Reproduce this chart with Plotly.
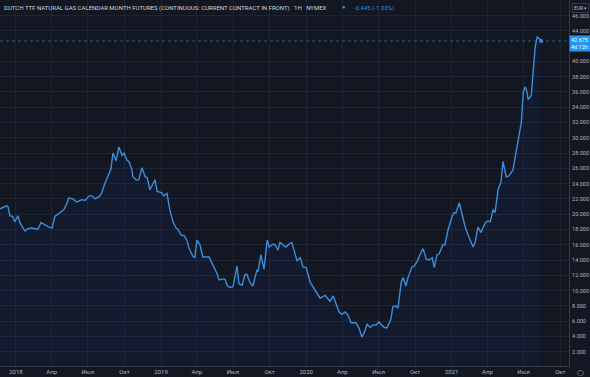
import plotly.graph_objects as go

dates = [
    "2017-11-22", "2017-12-09", "2017-12-12", "2017-12-17", "2017-12-24", "2017-12-29",
    "2018-01-06", "2018-01-11", "2018-01-19", "2018-01-24", "2018-01-31", "2018-02-10",
    "2018-02-18", "2018-02-25", "2018-03-05", "2018-03-15", "2018-03-25", "2018-04-02",
    "2018-04-09", "2018-04-22", "2018-05-02", "2018-05-09", "2018-05-14", "2018-05-24",
    "2018-06-03", "2018-06-16", "2018-06-24", "2018-07-04", "2018-07-11", "2018-07-19",
    "2018-07-29", "2018-08-05", "2018-08-13", "2018-08-20", "2018-08-28", "2018-09-02",
    "2018-09-10", "2018-09-17", "2018-09-25", "2018-09-30", "2018-10-07", "2018-10-12",
    "2018-10-20", "2018-10-22", "2018-10-30", "2018-11-06", "2018-11-14", "2018-11-22",
    "2018-11-27", "2018-12-04", "2018-12-12", "2018-12-17", "2018-12-22", "2019-01-03",
    "2019-01-08", "2019-01-16", "2019-01-23", "2019-01-31", "2019-02-08", "2019-02-13",
    "2019-02-20", "2019-02-28", "2019-03-07", "2019-03-12", "2019-03-22", "2019-03-27",
    "2019-04-01", "2019-04-09", "2019-04-16", "2019-04-27", "2019-05-02", "2019-05-09",
    "2019-05-17", "2019-05-22", "2019-05-27", "2019-06-03", "2019-06-11", "2019-06-16",
    "2019-06-23", "2019-07-01", "2019-07-11", "2019-07-16", "2019-07-24", "2019-07-31",
    "2019-08-05", "2019-08-13", "2019-08-20", "2019-08-30", "2019-09-02", "2019-09-09",
    "2019-09-17", "2019-09-25", "2019-09-30", "2019-10-10", "2019-10-15", "2019-10-22",
    "2019-10-27", "2019-11-04", "2019-11-11", "2019-11-19", "2019-11-26", "2019-12-09",
    "2019-12-17", "2019-12-24", "2020-01-01", "2020-01-11", "2020-01-18", "2020-01-28",
    "2020-02-05", "2020-02-12", "2020-02-17", "2020-02-25", "2020-03-01", "2020-03-09",
    "2020-03-16", "2020-03-24", "2020-03-31", "2020-04-08", "2020-04-15", "2020-04-23",
    "2020-04-28", "2020-05-05", "2020-05-13", "2020-05-20", "2020-05-26", "2020-06-02",
    "2020-06-10", "2020-06-17", "2020-06-25", "2020-07-02", "2020-07-07", "2020-07-15",
    "2020-07-22", "2020-08-01", "2020-08-06", "2020-08-14", "2020-08-19", "2020-08-27",
    "2020-09-01", "2020-09-08", "2020-09-13", "2020-09-23", "2020-09-28", "2020-10-06",
    "2020-10-13", "2020-10-21", "2020-10-29", "2020-11-05", "2020-11-13", "2020-11-18",
    "2020-11-25", "2020-11-30", "2020-12-10", "2020-12-15", "2020-12-23", "2021-01-02",
    "2021-01-07", "2021-01-12", "2021-01-20", "2021-01-27", "2021-02-04", "2021-02-11",
    "2021-02-19", "2021-02-24", "2021-03-01", "2021-03-08", "2021-03-16", "2021-03-21",
    "2021-03-28", "2021-04-03", "2021-04-08", "2021-04-15", "2021-04-20", "2021-04-28",
    "2021-05-05", "2021-05-10", "2021-05-18", "2021-05-25", "2021-06-04", "2021-06-12",
    "2021-06-17", "2021-06-25", "2021-06-30", "2021-07-05", "2021-07-10", "2021-07-12",
    "2021-07-20", "2021-07-25", "2021-07-30", "2021-08-04", "2021-08-09", "2021-08-14",
]

prices = [
    20.7, 21.1, 21.0, 19.8, 19.7, 19.0,
    19.8, 18.9, 18.2, 17.8, 18.1, 18.2,
    18.1, 18.0, 18.9, 18.6, 18.3, 18.2,
    19.7, 20.2, 20.6, 21.4, 22.1, 22.0,
    21.6, 21.9, 21.8, 22.4, 22.4, 22.0,
    22.3, 22.8, 24.1, 24.9, 25.9, 28.0,
    27.0, 28.8, 27.7, 28.0, 27.1, 26.9,
    25.8, 24.9, 24.5, 24.5, 26.1, 24.9,
    24.8, 23.2, 24.1, 24.5, 23.0, 22.8,
    22.4, 22.7, 20.6, 19.0, 18.2, 18.0,
    17.3, 17.2, 16.6, 15.6, 14.5, 14.3,
    16.6, 16.0, 14.4, 14.4, 14.4, 13.6,
    12.8, 12.2, 11.4, 11.5, 11.5, 10.7,
    10.4, 10.5, 13.2, 10.9, 10.7, 12.1,
    12.1, 11.0, 10.6, 12.7, 12.5, 14.7,
    12.8, 16.6, 15.7, 16.1, 16.0, 15.3,
    16.3, 16.0, 15.7, 16.1, 16.3, 13.9,
    14.3, 13.1, 13.0, 11.1, 10.5, 9.7,
    9.0, 9.2, 9.4, 8.9, 8.6, 9.3,
    8.4, 7.2, 6.9, 7.2, 6.8, 5.8,
    5.8, 5.8, 5.1, 3.9, 4.5, 5.6,
    5.2, 5.5, 5.5, 5.9, 5.6, 5.2,
    5.1, 6.2, 7.9, 8.0, 7.7, 11.1,
    11.7, 10.6, 11.7, 13.1, 13.2, 13.8,
    14.7, 15.5, 14.1, 14.0, 14.3, 13.0,
    14.7, 14.8, 16.0, 16.0, 18.0, 19.7,
    20.2, 20.2, 21.5, 19.9, 18.3, 17.3,
    16.4, 15.7, 16.3, 18.3, 17.6, 18.3,
    19.0, 19.1, 19.0, 20.6, 20.2, 23.3,
    24.2, 26.9, 24.9, 25.0, 25.8, 28.0,
    29.4, 32.0, 36.0, 36.7, 35.9, 35.0,
    35.5, 38.9, 41.9, 43.2, 43.0, 42.675,
]

tick_dates = ["2018-01-01", "2018-04-01", "2018-07-01", "2018-10-01",
              "2019-01-01", "2019-04-01", "2019-07-01", "2019-10-01",
              "2020-01-01", "2020-04-01", "2020-07-01", "2020-10-01",
              "2021-01-01", "2021-04-01", "2021-07-01", "2021-10-01"]
tick_labels = ["2018", "Апр", "Июл", "Окт", "2019", "Апр", "Июл", "Окт",
               "2020", "Апр", "Июл", "Окт", "2021", "Апр", "Июл", "Окт"]
y_ticks = [2, 4, 6, 8, 10, 12, 14, 16, 18, 20, 22, 24, 26, 28, 30, 32, 34, 36, 38, 40, 44, 46]

title_text = "DUTCH TTF NATURAL GAS CALENDAR MONTH FUTURES (CONTINUOUS: CURRENT CONTRACT IN FRONT)"
interval_text = "1H"
exchange_text = "NYMEX"
change_text = "-0.445 (-1.03%)"
last_price = prices[-1]
countdown_text = "4d 12h"
currency_text = "EUR ▾"

BG = "#131722"
GRID = "#1f2433"
LINE = "#3a8edb"
TXT = "#b2b5be"
FONT = "Roboto"

fig = go.Figure()
fig.add_trace(go.Scatter(
    x=dates, y=prices, mode="lines",
    line=dict(color=LINE, width=1.4),
    fill="tozeroy", fillcolor="rgba(41,98,255,0.055)",
    hoverinfo="skip", showlegend=False,
))
fig.add_trace(go.Scatter(
    x=[dates[-1]], y=[last_price], mode="markers",
    marker=dict(color=LINE, size=4), hoverinfo="skip", showlegend=False,
))

fig.update_layout(
    width=590, height=377,
    margin=dict(l=0, r=21, t=0, b=11),
    paper_bgcolor=BG, plot_bgcolor=BG,
    font=dict(family=FONT, color=TXT, size=6),
    xaxis=dict(
        range=["2017-11-22", "2021-10-23"],
        tickvals=tick_dates, ticktext=tick_labels,
        showgrid=True, gridcolor=GRID, gridwidth=1,
        zeroline=False, showline=True, linecolor="#363a45",
        ticks="", tickfont=dict(size=6, color=TXT),
        automargin=False, fixedrange=True, ticklabelstandoff=0,
    ),
    yaxis=dict(
        side="right", range=[0.13, 48.04],
        tickvals=y_ticks, tickformat=".3f",
        showgrid=True, gridcolor=GRID, gridwidth=1,
        zeroline=False, showline=True, linecolor="#363a45", mirror=False,
        ticks="", tickfont=dict(size=5.5, color=TXT),
        automargin=False, ticklabelstandoff=1,
    ),
)

# dashed last-price line
fig.add_shape(type="line", xref="paper", yref="y", x0=0, x1=1,
              y0=last_price, y1=last_price,
              line=dict(color="rgba(58,142,219,0.55)", width=1, dash="dot"))

# header
fig.add_annotation(xref="paper", yref="paper", x=0, y=1, xanchor="left", yanchor="top",
                   xshift=2, yshift=-2, showarrow=False,
                   text=title_text + "&nbsp;&nbsp;&nbsp;" + interval_text + "&nbsp;&nbsp;&nbsp;" + exchange_text,
                   font=dict(size=6, color="#d1d4dc", family=FONT))
fig.add_annotation(xref="paper", yref="paper", x=0, y=1, xanchor="left", yanchor="top",
                   xshift=340, yshift=-1, showarrow=False, text="●",
                   font=dict(size=6, color="#26a69a", family=FONT))
fig.add_annotation(xref="paper", yref="paper", x=0, y=1, xanchor="left", yanchor="top",
                   xshift=352, yshift=-2, showarrow=False, text=change_text,
                   font=dict(size=6, color="#2f8fe0", family=FONT))

# currency box
fig.add_annotation(xref="paper", yref="paper", x=1, y=1, xanchor="left", yanchor="top",
                   xshift=3, yshift=-3, showarrow=False, text=currency_text,
                   font=dict(size=5, color=TXT, family=FONT),
                   bordercolor="#363a45", borderwidth=1, borderpad=1, bgcolor=BG)

# last price label
fig.add_annotation(xref="paper", yref="y", x=1, y=last_price, xanchor="left", yanchor="middle",
                   xshift=0, yshift=-3, showarrow=False,
                   text=f"{last_price:.3f}<br>{countdown_text}",
                   font=dict(size=5.5, color="#ffffff", family=FONT),
                   bgcolor="#2196f3", borderpad=1, align="left", width=19)

# gear icon
fig.add_annotation(xref="paper", yref="paper", x=1, y=0, xanchor="left", yanchor="top",
                   xshift=6, yshift=0, showarrow=False, text="○",
                   font=dict(size=8, color=TXT, family="DejaVu Sans"))

fig.write_html("out.html",
               config={"displayModeBar": False, "staticPlot": True},
               post_script="document.body.style.margin='0';document.body.style.background='#131722';")
